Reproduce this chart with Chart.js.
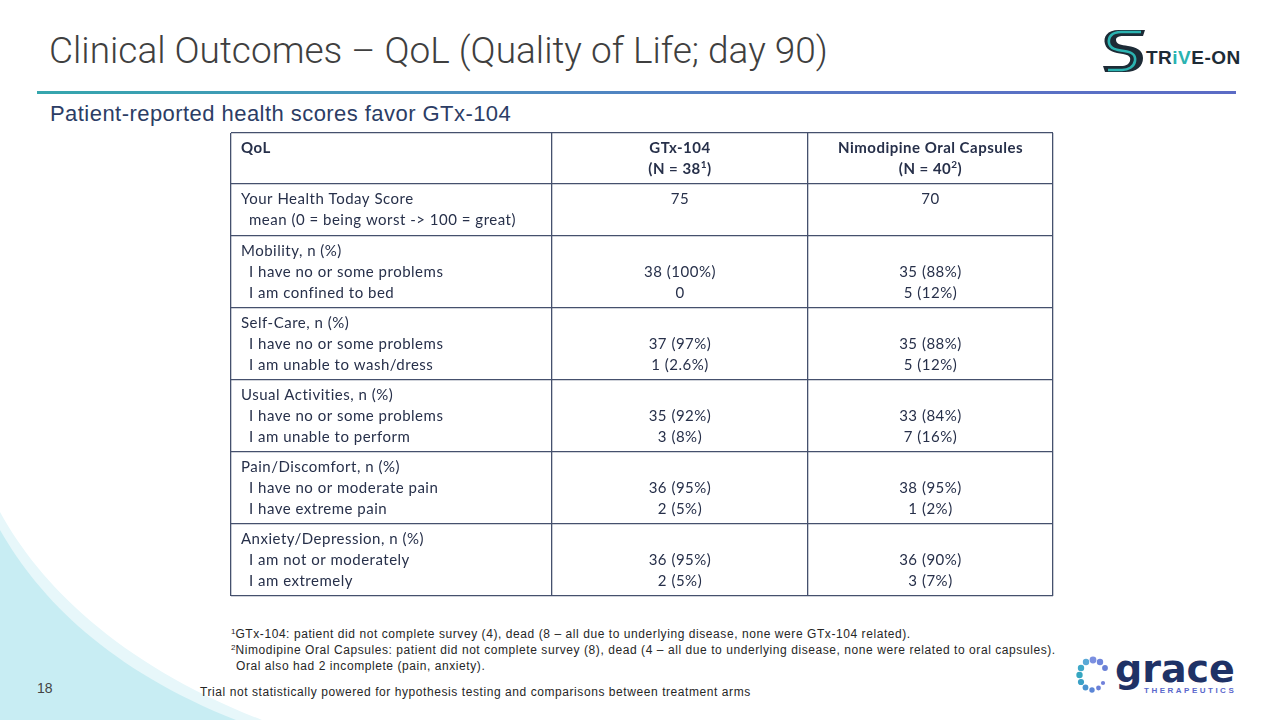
<!DOCTYPE html>
<html>
<head>
<meta charset="utf-8">
<script src="https://cdn.jsdelivr.net/npm/chart.js@4.4.1/dist/chart.umd.min.js"></script>
<style>
  html,body{margin:0;padding:0;background:#fff;}
  body{width:1280px;height:720px;position:relative;overflow:hidden;font-family:"Liberation Sans",Arial,sans-serif;}
  .abs{position:absolute;white-space:nowrap;}
  #title{left:49px;top:28px;font-family:Roboto,"Liberation Sans",sans-serif;font-weight:300;font-size:37px;color:#3f3f3f;line-height:46px;}
  #rule{left:37px;top:91px;width:1199px;height:3px;background:linear-gradient(90deg,#35a6ad 0%,#4a8fbf 35%,#5777c4 65%,#5b6bc5 100%);}
  #subtitle{left:50px;top:101px;font-size:22px;letter-spacing:0.45px;color:#2c3d65;line-height:26px;font-family:"Liberation Sans",Arial,sans-serif;}
  #chartWrap{left:221px;top:123px;width:842px;height:483px;}
  .fn{font-size:12px;color:#262626;line-height:16px;left:231px;letter-spacing:0.57px;}
  .fn sup{font-size:8px;vertical-align:4px;line-height:0;letter-spacing:0;}
  #pageNo{left:37px;top:680px;font-size:14px;color:#444;}
</style>
</head>
<body>
<svg class="abs" style="left:0;top:0" width="1280" height="720">
  <path d="M0,512 C40,585 120,665 262,720 L0,720 Z" fill="#e7f7fa"/>
  <path d="M0,530 C40,600 110,670 236,720 L0,720 Z" fill="#c8edf3"/>
</svg>

<div id="title" class="abs">Clinical Outcomes – QoL (Quality of Life; day 90)</div>
<div id="rule" class="abs"></div>
<div id="subtitle" class="abs">Patient-reported health scores favor GTx-104</div>

<!-- STRIVE-ON logo -->
<div class="abs" style="left:1101px;top:24px;width:142px;height:52px;">
  <svg width="50" height="50" viewBox="0 0 50 50" style="position:absolute;left:0;top:2px">
    <path d="M44,4 L18,4 C6,4 2,11 4,18 C6,25 14,27 22,28 C28,29 30,31 29,35 C28,38 25,40 20,40 L2,40 L4,46 L24,46 C36,46 42,40 42,32 C42,24 35,21 27,20 C20,19 15,18 15,14 C15,11 18,10 22,10 L42,10 Z" fill="#1d2b36"/>
    <path d="M40,6 L20,6 C11,6 7,11 8,17 C9,23 16,24 23,25 C31,26 35,29 34,35 C33,41 27,44 21,44 L7,44" fill="none" stroke="#2bb3b1" stroke-width="2.6"/>
  </svg>
  <div style="position:absolute;left:45px;top:24px;font-family:'Liberation Sans',Arial,sans-serif;font-weight:bold;font-size:19px;letter-spacing:0.5px;color:#1d2b36;line-height:20px;">TR<span style="color:#2bb3b1">iV</span>E-ON</div>
</div>

<div id="chartWrap" class="abs"><canvas id="c"></canvas></div>

<div class="abs fn" style="top:626px;"><sup>1</sup>GTx-104: patient did not complete survey (4), dead (8 – all due to underlying disease, none were GTx-104 related).</div>
<div class="abs fn" style="top:642px;"><sup>2</sup>Nimodipine Oral Capsules: patient did not complete survey (8), dead (4 – all due to underlying disease, none were related to oral capsules).</div>
<div class="abs fn" style="top:658px;left:236px;">Oral also had 2 incomplete (pain, anxiety).</div>
<div class="abs fn" style="top:684px;left:200px;">Trial not statistically powered for hypothesis testing and comparisons between treatment arms</div>
<div id="pageNo" class="abs">18</div>

<!-- grace logo -->
<div class="abs" style="left:1074px;top:650px;width:172px;height:50px;">
  <svg width="40" height="44" viewBox="0 0 40 44" style="position:absolute;left:0;top:4px">
    <circle cx="19" cy="6" r="3.4" fill="#7b8fe0"/>
    <circle cx="26" cy="8" r="3.2" fill="#6f86dc"/>
    <circle cx="31" cy="14" r="2.9" fill="#6a80d6"/>
    <circle cx="12" cy="8" r="3.2" fill="#5aa9d6"/>
    <circle cx="7" cy="14" r="3.2" fill="#3fa8c8"/>
    <circle cx="5.5" cy="21" r="3.2" fill="#35a6c0"/>
    <circle cx="7" cy="28" r="3.1" fill="#3aa0c6"/>
    <circle cx="11.5" cy="33.5" r="2.9" fill="#4a94d0"/>
    <circle cx="18" cy="36" r="2.7" fill="#5b86d6"/>
    <circle cx="24.5" cy="34" r="2.4" fill="#6a80d8"/>
    <circle cx="29" cy="29" r="2.1" fill="#7180da"/>
  </svg>
  <div style="position:absolute;left:41px;top:-3px;font-family:'DejaVu Sans',sans-serif;font-weight:bold;font-size:38px;color:#1f3266;letter-spacing:0px;line-height:44px;">grace</div>
  <div style="position:absolute;left:69px;top:36px;font-family:'Liberation Sans',sans-serif;font-weight:bold;font-size:8px;color:#5a68cc;letter-spacing:2.5px;line-height:9px;background:#fff;padding-left:1px;">THERAPEUTICS</div>
</div>

<script>
// ---------- DATA ----------
const columnHeaders = ['QoL', 'GTx-104', 'Nimodipine Oral Capsules'];
const armSizes = [38, 40];           // N per arm
const armFootnotes = ['1', '2'];     // superscript markers
const categories = [
  'Your Health Today Score',
  'Mobility, n (%)',
  'Self-Care, n (%)',
  'Usual Activities, n (%)',
  'Pain/Discomfort, n (%)',
  'Anxiety/Depression, n (%)'
];
const responses = [
  ['mean (0 = being worst -> 100 = great)'],
  ['I have no or some problems', 'I am confined to bed'],
  ['I have no or some problems', 'I am unable to wash/dress'],
  ['I have no or some problems', 'I am unable to perform'],
  ['I have no or moderate pain', 'I have extreme pain'],
  ['I am not or moderately', 'I am extremely']
];
const gtxValues = [
  ['75'],
  ['38 (100%)', '0'],
  ['37 (97%)', '1 (2.6%)'],
  ['35 (92%)', '3 (8%)'],
  ['36 (95%)', '2 (5%)'],
  ['36 (95%)', '2 (5%)']
];
const nimodipineValues = [
  ['70'],
  ['35 (88%)', '5 (12%)'],
  ['35 (88%)', '5 (12%)'],
  ['33 (84%)', '7 (16%)'],
  ['38 (95%)', '1 (2%)'],
  ['36 (90%)', '3 (7%)']
];

// ---------- LAYOUT (not data) ----------
const colWidths = [321, 256, 245];
const lineH = 21, rowPad = 9;
const textColor = '#27304a';
const lineColor = '#45506d';
const fontFamily = 'Lato, "Open Sans", sans-serif';
const spacing = '0.5px';

const colBounds = [0];
colWidths.forEach(w => colBounds.push(colBounds[colBounds.length - 1] + w));
const rowLines = [2].concat(responses.map(r => 1 + r.length));
const rowBounds = [0];
rowLines.forEach(n => rowBounds.push(rowBounds[rowBounds.length - 1] + n * lineH + rowPad));

function drawRuns(ctx, runs, cx, cy) {
  let total = 0;
  runs.forEach(r => {
    ctx.font = (r.sup ? 'bold 10px ' : 'bold 15px ') + fontFamily;
    r.w = ctx.measureText(r.t).width; total += r.w;
  });
  let x = cx - total / 2;
  runs.forEach(r => {
    ctx.font = (r.sup ? 'bold 10px ' : 'bold 15px ') + fontFamily;
    ctx.textAlign = 'left';
    ctx.fillText(r.t, x, r.sup ? cy - 5 : cy);
    x += r.w;
  });
}

const tablePlugin = {
  id: 'tableText',
  afterDraw(chart) {
    const { ctx, scales: { x, y } } = chart;
    ctx.save();
    ctx.fillStyle = textColor;
    ctx.textBaseline = 'middle';
    if ('letterSpacing' in ctx) ctx.letterSpacing = spacing;
    const colLeft = i => x.getPixelForValue(colBounds[i]);
    const colMid = i => (x.getPixelForValue(colBounds[i]) + x.getPixelForValue(colBounds[i + 1])) / 2;
    const lineY = (row, k) => y.getPixelForValue(rowBounds[row]) + 15.5 + k * lineH;

    // header
    ctx.font = 'bold 15px ' + fontFamily;
    ctx.textAlign = 'left';
    ctx.fillText(columnHeaders[0], colLeft(0) + 10, lineY(0, 0));
    [1, 2].forEach(c => {
      ctx.font = 'bold 15px ' + fontFamily;
      ctx.textAlign = 'center';
      ctx.fillText(columnHeaders[c], colMid(c), lineY(0, 0));
      drawRuns(ctx, [{ t: '(N = ' + armSizes[c - 1] }, { t: armFootnotes[c - 1], sup: true }, { t: ')' }], colMid(c), lineY(0, 1));
    });

    // body
    categories.forEach((cat, i) => {
      const row = i + 1;
      ctx.font = '15px ' + fontFamily;
      ctx.textAlign = 'left';
      ctx.fillText(cat, colLeft(0) + 10, lineY(row, 0));
      responses[i].forEach((r, k) => ctx.fillText(r, colLeft(0) + 18, lineY(row, k + 1)));
      const start = responses[i].length > 1 ? 1 : 0;
      ctx.textAlign = 'center';
      gtxValues[i].forEach((v, k) => ctx.fillText(v, colMid(1), lineY(row, start + k)));
      nimodipineValues[i].forEach((v, k) => ctx.fillText(v, colMid(2), lineY(row, start + k)));
    });
    ctx.restore();
  }
};

new Chart(document.getElementById('c'), {
  type: 'scatter',
  data: { datasets: [{ data: [], showLine: false }] },
  options: {
    responsive: true,
    maintainAspectRatio: false,
    animation: false,
    layout: { padding: 10 },
    plugins: { legend: { display: false }, tooltip: { enabled: false }, title: { display: false } },
    scales: {
      x: {
        type: 'linear', min: colBounds[0], max: colBounds[colBounds.length - 1],
        ticks: { display: false },
        grid: { color: lineColor, lineWidth: 1.3, drawTicks: false },
        border: { display: false },
        afterBuildTicks: s => { s.ticks = colBounds.map(v => ({ value: v })); },
        afterFit: s => { s.height = 0; }
      },
      y: {
        type: 'linear', reverse: true, min: rowBounds[0], max: rowBounds[rowBounds.length - 1],
        ticks: { display: false },
        grid: { color: lineColor, lineWidth: 1.3, drawTicks: false },
        border: { display: false },
        afterBuildTicks: s => { s.ticks = rowBounds.map(v => ({ value: v })); },
        afterFit: s => { s.width = 0; }
      }
    }
  },
  plugins: [tablePlugin]
});
</script>
</body>
</html>
